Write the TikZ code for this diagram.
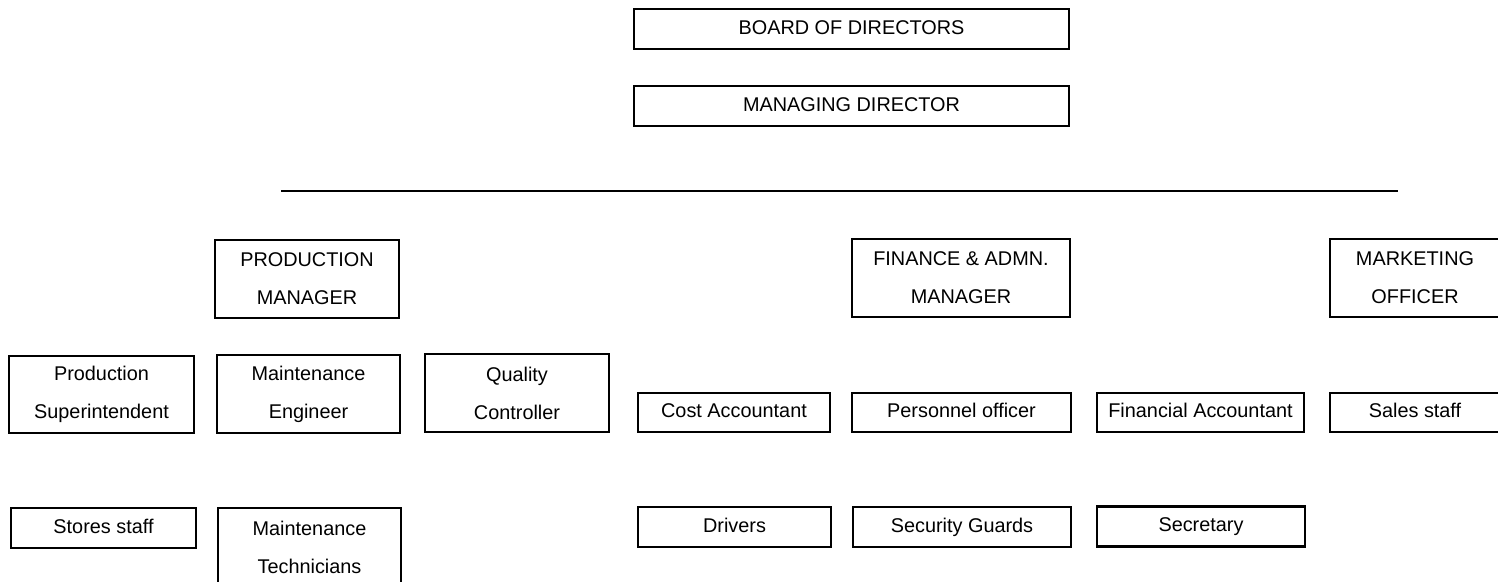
\documentclass[tikz,border=0pt]{standalone}
\usepackage{fontspec}
\setmainfont{Liberation Sans}

\begin{document}
\begin{tikzpicture}[
        base/.style={rectangle, draw, line width=1.25pt, inner sep=0pt,
            font=\fontsize{11.3}{21.6}\selectfont},
        post/.style={base, minimum height=0.8cm, text height=1.6ex, text depth=0.45ex},
        post2/.style={base, align=center, minimum height=1.56cm}
    ]

        \useasboundingbox (0,0) rectangle (29.96, 11.64);

        % Define nodes (boxes) -- top of the chart

        \node (board) at ( 17.03, 11.06 ) [post, minimum width=8.7cm] {BOARD OF DIRECTORS};

        \node (md)    at ( 17.03, 9.52 )  [post, minimum width=8.7cm] {MANAGING DIRECTOR};

        % divider under the managing director

        \coordinate (divL) at ( 5.62, 7.82 );
        \coordinate (divR) at ( 27.96, 7.82 );

        \draw[line width=0.8pt] (divL) -- (divR);

        % managers

        \node (prodmgr) at ( 6.14, 6.06 )  [post2, minimum width=3.68cm] {PRODUCTION\\MANAGER};

        \node (finmgr)  at ( 19.22, 6.08 ) [post2, minimum width=4.36cm] {FINANCE \& ADMN.\\MANAGER};

        \node (mktoff)  at ( 28.3, 6.08 )  [post2, minimum width=3.4cm] {MARKETING\\OFFICER};

        % second row

        \node (prodsup)  at ( 2.03, 3.75 )  [post2, minimum width=3.7cm, minimum height=1.54cm] {Production\\Superintendent};

        \node (mainteng) at ( 6.17, 3.76 )  [post2, minimum width=3.66cm] {Maintenance\\Engineer};

        \node (quality)  at ( 10.34, 3.78 ) [post2, minimum width=3.68cm] {Quality\\Controller};

        \node (costacc)  at ( 14.68, 3.39 ) [post, minimum width=3.84cm, minimum height=0.78cm] {Cost Accountant};

        \node (persoff)  at ( 19.23, 3.39 ) [post, minimum width=4.38cm, minimum height=0.78cm] {Personnel officer};

        \node (finacc)   at ( 24.01, 3.39 ) [post, minimum width=4.14cm, minimum height=0.78cm] {Financial Accountant};

        \node (sales)    at ( 28.3, 3.39 )  [post, minimum width=3.4cm, minimum height=0.78cm] {Sales staff};

        % bottom row

        \node (stores)    at ( 2.07, 1.08 )  [post, minimum width=3.7cm] {Stores staff};

        \node (mainttech) at ( 6.19, 0.70 )  [post2, minimum width=3.66cm] {Maintenance\\Technicians};

        \node (drivers)   at ( 14.69, 1.10 ) [post, minimum width=3.86cm] {Drivers};

        \node (security)  at ( 19.24, 1.10 ) [post, minimum width=4.36cm] {Security Guards};

        \node (secretary) at ( 24.02, 1.11 ) [post, minimum width=4.16cm] {Secretary};

    \end{tikzpicture}
\end{document}
